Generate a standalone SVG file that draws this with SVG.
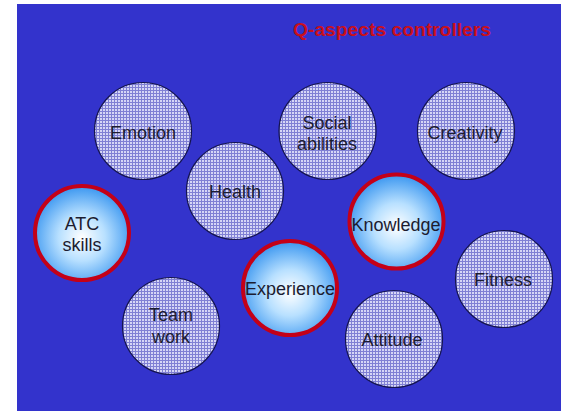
<svg xmlns="http://www.w3.org/2000/svg" width="561" height="411" viewBox="0 0 561 411">
<defs>
<pattern id="grid" width="3" height="3" patternUnits="userSpaceOnUse">
<rect width="3" height="3" fill="#d6d6f6"/>
<path d="M0 0.5H3M0.5 0V3" stroke="#8080d4" stroke-width="1"/>
</pattern>
<radialGradient id="glow" cx="50%" cy="55%" r="55%">
<stop offset="0" stop-color="#ffffff"/>
<stop offset="0.45" stop-color="#b8e0ff"/>
<stop offset="1" stop-color="#3a96f0"/>
</radialGradient>
<style>
.plain{fill:url(#grid);stroke:#141450;stroke-width:1.2}
.key{fill:url(#glow);stroke:#c40018;stroke-width:4}
.lbl{font-family:"Liberation Sans",Arial,sans-serif;font-size:18px;fill:#1c1c30;text-anchor:middle}
.title{font-family:"Liberation Sans",Arial,sans-serif;font-size:18px;font-weight:bold;fill:#c8101c}
</style>
</defs>
<rect x="0" y="0" width="561" height="411" fill="#ffffff"/>
<rect x="17" y="4" width="544" height="407" fill="#3333cc"/>
<text class="title" x="293" y="36" textLength="198" lengthAdjust="spacingAndGlyphs">Q-aspects controllers</text>
<g id="connectors"/>
<g id="emotion"><circle class="plain" cx="143" cy="131" r="48.5"/><text class="lbl" x="143" y="139">Emotion</text></g>
<g id="social"><circle class="plain" cx="327.5" cy="131" r="48.5"/><text class="lbl" x="327" y="129">Social</text><text class="lbl" x="327" y="150">abilities</text></g>
<g id="creativity"><circle class="plain" cx="466" cy="131" r="48.5"/><text class="lbl" x="465" y="139">Creativity</text></g>
<g id="health"><circle class="plain" cx="235" cy="191" r="48.5"/><text class="lbl" x="235" y="198">Health</text></g>
<g id="atc"><circle class="key" cx="82" cy="233" r="47"/><text class="lbl" x="82" y="230">ATC</text><text class="lbl" x="82" y="251">skills</text></g>
<g id="knowledge"><circle class="key" cx="396.5" cy="221.5" r="47"/><text class="lbl" x="396" y="231">Knowledge</text></g>
<g id="experience"><circle class="key" cx="290" cy="288" r="47"/><text class="lbl" x="290" y="295">Experience</text></g>
<g id="fitness"><circle class="plain" cx="504" cy="279" r="48.5"/><text class="lbl" x="503" y="286">Fitness</text></g>
<g id="teamwork"><circle class="plain" cx="171" cy="326" r="48.5"/><text class="lbl" x="171" y="321">Team</text><text class="lbl" x="171" y="343">work</text></g>
<g id="attitude"><circle class="plain" cx="394" cy="339" r="48.5"/><text class="lbl" x="392" y="346">Attitude</text></g>
</svg>
